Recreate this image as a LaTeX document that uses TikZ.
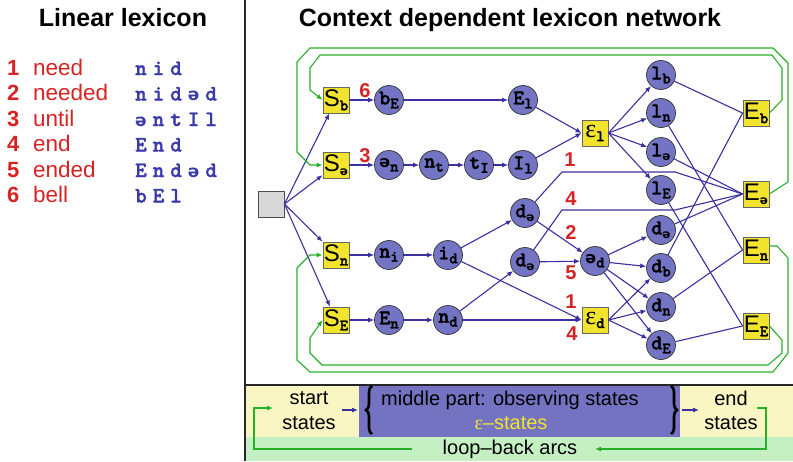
\documentclass[tikz,border=0pt]{standalone}
\usepackage{fontspec}
\setmainfont{Liberation Sans}
\newfontfamily\dvs{DejaVu Sans}
\newfontfamily\lser{Liberation Serif}
\newfontfamily\courb[FakeBold=1.6]{lmmonolt10-bold.otf}
\usetikzlibrary{arrows.meta,decorations.pathreplacing}
\definecolor{cblue}{RGB}{116,116,196}
\definecolor{eblue}{RGB}{58,48,160}
\definecolor{cyel}{RGB}{242,228,46}
\definecolor{cred}{RGB}{214,36,36}
\definecolor{phblue}{RGB}{58,58,170}
\definecolor{cgreen}{RGB}{40,175,40}
\definecolor{lyel}{RGB}{249,246,196}
\definecolor{lgreen}{RGB}{196,240,196}
\definecolor{mblue}{RGB}{115,115,194}
\definecolor{gsq}{RGB}{216,216,216}
\newcommand{\sch}[1]{{\dvs\bfseries\fontsize{#1}{#1}\selectfont ə}}
\newcommand{\cl}[2]{{\courb\fontsize{21}{21}\selectfont #1\raisebox{-4pt}{\fontsize{16}{16}\selectfont #2}}}
\newcommand{\yl}[2]{{\fontsize{24}{24}\selectfont #1\raisebox{-4pt}{\courb\fontsize{16}{16}\selectfont #2}}}
\newcommand{\eps}{{\lser\fontsize{26}{26}\selectfont ε}}
\newcommand{\pp}{\hspace{6pt}}
\tikzset{
  circ/.style={circle, draw=black!80, fill=cblue, minimum size=29pt, inner sep=0pt, line width=0.7pt},
  ysq/.style={rectangle, draw=black!60, fill=cyel, minimum size=26pt, inner sep=0pt, line width=0.9pt},
  gsqs/.style={rectangle, draw=black!70, fill=gsq, minimum size=26pt, inner sep=0pt, line width=0.9pt},
  e/.style={draw=eblue, line width=1.1pt, -{Latex[length=6pt,width=5pt]}},
  ne/.style={draw=eblue, line width=1.1pt},
  gra/.style={draw=cgreen, line width=1.1pt, -{Latex[length=6pt,width=5pt]}},
  lab/.style={text=cred, font=\bfseries\fontsize{20}{20}\selectfont, inner sep=0pt},
  ttl/.style={font=\bfseries\fontsize{25}{25}\selectfont, anchor=base, inner sep=0pt},
  num/.style={text=cred, font=\bfseries\fontsize{22}{22}\selectfont, anchor=base west, inner sep=0pt},
  wrd/.style={text=cred, font=\fontsize{22.5}{22.5}\selectfont, anchor=base west, inner sep=0pt},
  phn/.style={text=phblue, font=\courb\fontsize{22}{22}\selectfont, anchor=base west, inner sep=0pt},
  leg/.style={font=\fontsize{20}{20}\selectfont, inner sep=0pt},
  brc/.style={decorate, decoration={brace, amplitude=6pt}, line width=2.6pt, draw=black}
}
\begin{document}
\begin{tikzpicture}[x=1pt,y=-1pt]
\useasboundingbox (0,0) rectangle (793,461);
% legend backgrounds
\fill[lyel] (245,385) rectangle (793,437);
\fill[lgreen] (245,437) rectangle (793,461);
\fill[mblue] (359,385) rectangle (680,437);
\draw[line width=1.2pt, black!85] (245,385) -- (793,385);
\draw[line width=1.4pt, black!85] (245,0) -- (245,461);

% titles
\node[ttl] (t1) at (123,26) {Linear lexicon};
\node[ttl] (t2) at (510,26) {Context dependent lexicon network};

% linear lexicon
\node[num] (n1) at (7,75) {1};
\node[num] (n2) at (7,100.5) {2};
\node[num] (n3) at (7,126) {3};
\node[num] (n4) at (7,151.5) {4};
\node[num] (n5) at (7,177) {5};
\node[num] (n6) at (7,202.5) {6};
\node[wrd] (w1) at (33,75) {need};
\node[wrd] (w2) at (33,100.5) {needed};
\node[wrd] (w3) at (33,126) {until};
\node[wrd] (w4) at (33,151.5) {end};
\node[wrd] (w5) at (33,177) {ended};
\node[wrd] (w6) at (33,202.5) {bell};
\node[phn] (p1) at (135,75) {n\pp i\pp d};
\node[phn] (p2) at (135,100.5) {n\pp i\pp d\pp\sch{17}\pp d};
\node[phn] (p3) at (135,126) {\sch{17}\pp n\pp t\pp I\pp l};
\node[phn] (p4) at (135,151.5) {E\pp n\pp d};
\node[phn] (p5) at (135,177) {E\pp n\pp d\pp\sch{17}\pp d};
\node[phn] (p6) at (135,202.5) {b\pp E\pp l};

% network nodes
\node[gsqs] (gray) at (271,204) {};
\node[ysq] (Sb) at (336,100) {\yl{S}{b}};
\node[ysq] (Sa) at (336,165) {\yl{S}{\sch{12}}};
\node[ysq] (Sn) at (336,255) {\yl{S}{n}};
\node[ysq] (SE) at (336,320) {\yl{S}{E}};
\node[circ] (bE) at (389,100) {\cl{b}{E}};
\node[circ] (El) at (523,100) {\cl{E}{l}};
\node[circ] (an) at (389,165) {\cl{\sch{16}}{n}};
\node[circ] (nt) at (434,165) {\cl{n}{t}};
\node[circ] (tI) at (479,165) {\cl{t}{I}};
\node[circ] (Il) at (523,165) {\cl{I}{l}};
\node[circ] (ni) at (389,255) {\cl{n}{i}};
\node[circ] (id) at (448,255) {\cl{i}{d}};
\node[circ] (En) at (389,320) {\cl{E}{n}};
\node[circ] (nd) at (448,320) {\cl{n}{d}};
\node[circ] (da1) at (525,213) {\cl{d}{\sch{12}}};
\node[circ] (da2) at (525,262) {\cl{d}{\sch{12}}};
\node[ysq] (epsl) at (595,133) {\eps\raisebox{-4pt}{\courb\fontsize{16}{16}\selectfont l}};
\node[circ] (ad) at (595,261) {\cl{\sch{16}}{d}};
\node[ysq] (epsd) at (595,320) {\eps\raisebox{-4pt}{\courb\fontsize{16}{16}\selectfont d}};
\node[circ] (lb) at (661,75) {\cl{l}{b}};
\node[circ] (ln) at (661,113) {\cl{l}{n}};
\node[circ] (la) at (661,152) {\cl{l}{\sch{12}}};
\node[circ] (lE) at (661,190) {\cl{l}{E}};
\node[circ] (dA) at (661,230) {\cl{d}{\sch{12}}};
\node[circ] (db) at (661,268) {\cl{d}{b}};
\node[circ] (dn) at (661,307) {\cl{d}{n}};
\node[circ] (dE) at (661,345) {\cl{d}{E}};
\node[ysq] (Eb) at (756,113) {\yl{E}{b}};
\node[ysq] (Ea) at (756,194) {\yl{E}{\sch{12}}};
\node[ysq] (En2) at (756,250) {\yl{E}{n}};
\node[ysq] (EE) at (756,326) {\yl{E}{E}};

% blue edges
\draw[e] (gray.east) -- (Sb);
\draw[e] (gray.east) -- (Sa);
\draw[e] (gray.east) -- (Sn);
\draw[e] (gray.east) -- (SE);
\draw[e] (Sb) -- (bE);
\draw[e] (bE) -- (El);
\draw[e] (El) -- (epsl.west);
\draw[e] (Il) -- (epsl.west);
\draw[e] (Sa) -- (an);
\draw[e] (an) -- (nt);
\draw[e] (nt) -- (tI);
\draw[e] (tI) -- (Il);
\draw[e] (epsl.east) -- (lb);
\draw[e] (epsl.east) -- (ln);
\draw[e] (epsl.east) -- (la);
\draw[e] (epsl.east) -- (lE);
\draw[e] (Sn) -- (ni);
\draw[e] (ni) -- (id);
\draw[e] (id) -- (da1);
\draw[e] (id) -- (epsd.west);
\draw[e] (SE) -- (En);
\draw[e] (En) -- (nd);
\draw[e] (nd) -- (da2);
\draw[e] (nd) -- (epsd.west);
\draw[e] (da1) -- (ad);
\draw[e] (da2) -- (ad);
\draw[e] (ad) -- (dA);
\draw[e] (ad) -- (db);
\draw[e] (ad) -- (dn);
\draw[e] (ad) -- (dE);
\draw[e] (epsd.east) -- (db);
\draw[e] (epsd.east) -- (dn);
\draw[e] (epsd.east) -- (dE);
\coordinate (k1) at (562,172);
\coordinate (k2) at (675,172);
\coordinate (k3) at (562,210);
\coordinate (k4) at (675,210);
\draw[ne] (da1) -- (k1) -- (k2) -- (Ea.west);
\draw[ne] (da2) -- (k3) -- (k4) -- (Ea.west);
\draw[ne] (lb) -- (Eb.west);
\draw[ne] (ln) -- (En2.west);
\draw[ne] (la) -- (Ea.west);
\draw[ne] (lE) -- (EE.west);
\draw[ne] (dA) -- (Ea.west);
\draw[ne] (db) -- (Eb.west);
\draw[ne] (dn) -- (En2.west);
\draw[ne] (dE) -- (EE.west);

% red labels
\node[lab] (L6) at (365,91) {6};
\node[lab] (L3) at (365,156) {3};
\node[lab] (La) at (570,160) {1};
\node[lab] (Lb) at (571,199) {4};
\node[lab] (Lc) at (571,233) {2};
\node[lab] (Ld) at (571,273) {5};
\node[lab] (Le) at (571,302) {1};
\node[lab] (Lf) at (572,334) {4};

% green loop-back arcs
\coordinate (c1) at (769,246);
\draw[gra] (Eb.east) -- (782,100) -- (782,68) -- (772,55) -- (320,55) -- (310,68) -- (310,90) -- (Sb.west);
\draw[gra] (Ea.east) -- (788,182) -- (788,63) -- (773,48) -- (310,48) -- (297,62) -- (297,152) -- (310,165) -- (Sa.west);
\draw[gra] (c1) -- (777,246) -- (788,258) -- (788,353) -- (773,372) -- (310,372) -- (297,360) -- (297,268) -- (310,255) -- (Sn.west);
\draw[gra] (EE.east) -- (782,340) -- (782,353) -- (768,365) -- (322,365) -- (310,353) -- (310,338) -- (SE.west);

% legend
\node[leg] (st1) at (309,398) {start};
\node[leg] (st2) at (309,423) {states};
\node[leg] (en1) at (731,398) {end};
\node[leg] (en2) at (731,423) {states};
\node[leg] (mid) at (510,400) {middle part: observing states};
\node[leg, text=cyel] (eps) at (511,423) {{\lser ε}–states};
\node[leg] (loop) at (510,449) {loop–back arcs};
\draw[brc] (372,434) -- (372,386);
\draw[brc] (671,386) -- (671,434);
\coordinate (a1) at (342,410);
\coordinate (a2) at (358,410);
\coordinate (a3) at (682,410);
\coordinate (a4) at (699,410);
\draw[e] (a1) -- (a2);
\draw[e] (a3) -- (a4);
\coordinate (g1) at (412,449);
\coordinate (g2) at (273,408);
\coordinate (g3) at (757,408);
\coordinate (g4) at (595,449);
\draw[gra] (g1) -- (254,449) -- (254,408) -- (g2);
\draw[gra] (g3) -- (766,408) -- (766,449) -- (g4);
\end{tikzpicture}
\end{document}
